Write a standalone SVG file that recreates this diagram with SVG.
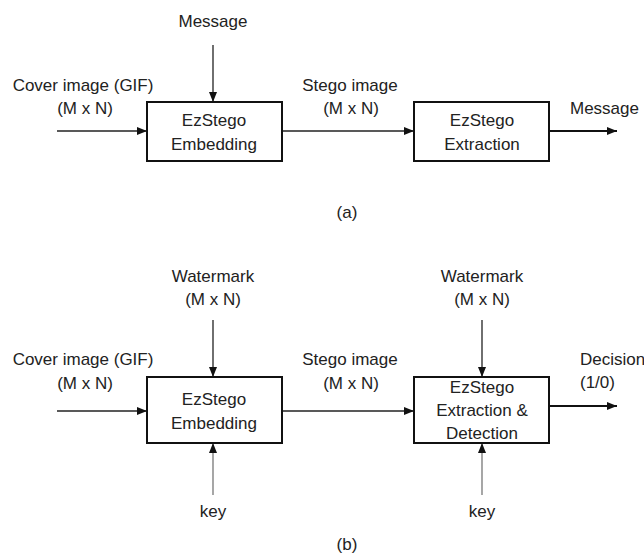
<svg xmlns="http://www.w3.org/2000/svg" width="644" height="557" viewBox="0 0 644 557">
<style>
text{font-family:"Liberation Sans",Arial,sans-serif;font-size:17px;fill:#222;text-anchor:middle}
.box{fill:#fff;stroke:#111;stroke-width:2}
.ln{stroke:#222;stroke-width:1.3;fill:none;marker-end:url(#ah)}
.thk{stroke:#111;stroke-width:2;fill:none;marker-end:url(#ah)}
.key{stroke:#777;stroke-width:1.3;fill:none;marker-end:url(#ahk)}
</style>
<defs>
<marker id="ah" markerUnits="userSpaceOnUse" markerWidth="10" markerHeight="10" viewBox="0 0 10 10" refX="10" refY="5" orient="auto"><path d="M0,1 L10,5 L0,9 Z" fill="#111"/></marker>
<marker id="ahk" markerUnits="userSpaceOnUse" markerWidth="10" markerHeight="10" viewBox="0 0 10 10" refX="10" refY="5" orient="auto"><path d="M0,1 L10,5 L0,9 Z" fill="#111"/></marker>
</defs>
<rect width="644" height="557" fill="#fff"/>
<g id="connectors">
<line class="ln" x1="57" y1="131" x2="147" y2="131"/>
<line class="ln" x1="213" y1="45" x2="213" y2="102"/>
<line class="ln" x1="282" y1="131" x2="414" y2="131"/>
<line class="thk" x1="549" y1="131" x2="617" y2="131"/>
<line class="ln" x1="57" y1="411" x2="147" y2="411"/>
<line class="ln" x1="213" y1="320" x2="213" y2="377"/>
<line class="key" x1="213" y1="495" x2="213" y2="443"/>
<line class="ln" x1="282" y1="411" x2="414" y2="411"/>
<line class="ln" x1="482" y1="320" x2="482" y2="377"/>
<line class="key" x1="482" y1="495" x2="482" y2="443"/>
<line class="thk" x1="549" y1="406" x2="617" y2="406"/>
</g>
<g id="embed-a"><rect class="box" x="147" y="102" width="135" height="59"/><text x="214" y="126">EzStego</text><text x="214" y="150">Embedding</text></g>
<g id="extract-a"><rect class="box" x="414" y="102" width="135" height="59"/><text x="482" y="126">EzStego</text><text x="482" y="150">Extraction</text></g>
<g id="embed-b"><rect class="box" x="147" y="377" width="135" height="66"/><text x="214" y="405">EzStego</text><text x="214" y="429">Embedding</text></g>
<g id="extract-b"><rect class="box" x="414" y="377" width="135" height="66"/><text x="482" y="393">EzStego</text><text x="482" y="416">Extraction &amp;</text><text x="482" y="439">Detection</text></g>
<g id="labels-a">
<text x="213" y="27">Message</text>
<text x="83" y="91">Cover image (GIF)</text>
<text x="85" y="114">(M x N)</text>
<text x="350" y="91">Stego image</text>
<text x="351" y="114">(M x N)</text>
<text x="570" y="114" style="text-anchor:start">Message</text>
<text x="347" y="218">(a)</text>
</g>
<g id="labels-b">
<text x="213" y="282">Watermark</text>
<text x="213" y="305">(M x N)</text>
<text x="83" y="365">Cover image (GIF)</text>
<text x="85" y="389">(M x N)</text>
<text x="350" y="365">Stego image</text>
<text x="351" y="389">(M x N)</text>
<text x="482" y="282">Watermark</text>
<text x="482" y="305">(M x N)</text>
<text x="580" y="365" style="text-anchor:start">Decision</text>
<text x="580" y="388" style="text-anchor:start">(1/0)</text>
<text x="213" y="517">key</text>
<text x="482" y="517">key</text>
<text x="347" y="550">(b)</text>
</g>
</svg>
